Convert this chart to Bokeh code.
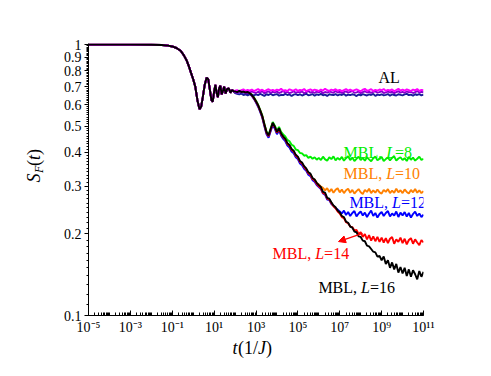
import math
from bokeh.plotting import figure
from bokeh.layouts import row, column
from bokeh.models import (Range1d, FixedTicker, CustomJSTickFormatter, Label, Arrow, NormalHead)
from bokeh.core.properties import value
from bokeh.embed import file_html
from bokeh.resources import INLINE

# ---------------- data (log10 of t, S_F values) ----------------
early_logt = [-5.0, -4.0, -3.0, -2.0, -1.5, -1.2, -1.0, -0.8, -0.6, -0.45, -0.3, -0.2, -0.1,
              0.0, 0.1, 0.2, 0.3, 0.38, 0.46, 0.55, 0.64, 0.72, 0.8, 0.87, 0.93, 1.0, 1.06,
              1.12, 1.18, 1.24, 1.3, 1.36, 1.42, 1.48, 1.55, 1.62, 1.7, 1.78, 1.86, 1.94]
early_s = [1.0, 1.0, 1.0, 0.9995, 0.997, 0.992, 0.985, 0.972, 0.95, 0.915, 0.87, 0.83, 0.785,
           0.745, 0.70, 0.625, 0.578, 0.59, 0.64, 0.71, 0.755, 0.745, 0.68, 0.625, 0.615, 0.67,
           0.71, 0.665, 0.64, 0.69, 0.705, 0.655, 0.675, 0.70, 0.66, 0.685, 0.69, 0.665, 0.68, 0.672]

tail_logt = [2.0, 2.1, 2.2, 2.3, 2.4, 2.5, 2.6, 2.7, 2.8, 2.9,
             3.0, 3.1, 3.2, 3.3, 3.4, 3.5, 3.6, 3.7, 3.8, 3.9,
             4.0, 4.1, 4.2, 4.3, 4.4, 4.5, 4.6, 4.7, 4.8, 4.9,
             5.0, 5.1, 5.2, 5.3, 5.4, 5.5, 5.6, 5.7, 5.8, 5.9,
             6.0, 6.1, 6.2, 6.3, 6.4, 6.5, 6.6, 6.7, 6.8, 6.9,
             7.0, 7.1, 7.2, 7.3, 7.4, 7.5, 7.6, 7.7, 7.8, 7.9,
             8.0, 8.1, 8.2, 8.3, 8.4, 8.5, 8.6, 8.7, 8.8, 8.9,
             9.0, 9.1, 9.2, 9.3, 9.4, 9.5, 9.6, 9.7, 9.8, 9.9,
             10.0, 10.1, 10.2, 10.3, 10.4, 10.5, 10.6, 10.7, 10.8, 10.9, 11.0]

al_magenta = [0.676, 0.680, 0.673, 0.679, 0.684, 0.675, 0.681, 0.677, 0.683, 0.674,
              0.680, 0.686, 0.676, 0.682, 0.673, 0.679, 0.685, 0.677, 0.681, 0.675,
              0.683, 0.678, 0.687, 0.676, 0.680, 0.674, 0.684, 0.679, 0.677, 0.685,
              0.675, 0.681, 0.678, 0.686, 0.673, 0.680, 0.684, 0.676, 0.682, 0.679,
              0.674, 0.683, 0.677, 0.688, 0.679, 0.675, 0.682, 0.678, 0.685, 0.676,
              0.681, 0.674, 0.680, 0.686, 0.677, 0.683, 0.675, 0.679, 0.684, 0.678,
              0.673, 0.682, 0.687, 0.676, 0.680, 0.685, 0.674, 0.681, 0.677, 0.683,
              0.679, 0.686, 0.675, 0.681, 0.678, 0.684, 0.673, 0.680, 0.687, 0.677,
              0.682, 0.676, 0.684, 0.679, 0.674, 0.683, 0.678, 0.686, 0.675, 0.681, 0.679]
al_purple = [0.668, 0.664, 0.671, 0.666, 0.673, 0.662, 0.669, 0.665, 0.672, 0.667,
             0.663, 0.670, 0.666, 0.674, 0.661, 0.668, 0.672, 0.664, 0.669, 0.666,
             0.671, 0.663, 0.668, 0.675, 0.665, 0.670, 0.662, 0.667, 0.673, 0.664,
             0.669, 0.666, 0.672, 0.661, 0.668, 0.674, 0.665, 0.670, 0.663, 0.671,
             0.667, 0.673, 0.662, 0.669, 0.665, 0.671, 0.668, 0.664, 0.674, 0.666,
             0.670, 0.663, 0.668, 0.672, 0.665, 0.669, 0.675, 0.664, 0.667, 0.671,
             0.662, 0.668, 0.673, 0.666, 0.670, 0.664, 0.669, 0.672, 0.665, 0.668,
             0.674, 0.663, 0.667, 0.671, 0.666, 0.670, 0.662, 0.668, 0.673, 0.665,
             0.669, 0.664, 0.672, 0.667, 0.670, 0.663, 0.668, 0.674, 0.666, 0.669, 0.667]
al_navy = [0.662, 0.658, 0.655, 0.659, 0.652, 0.656, 0.650, 0.657, 0.653, 0.649,
           0.655, 0.651, 0.658, 0.653, 0.647, 0.656, 0.652, 0.659, 0.650, 0.654,
           0.657, 0.648, 0.653, 0.651, 0.658, 0.652, 0.655, 0.646, 0.654, 0.657,
           0.651, 0.656, 0.649, 0.654, 0.659, 0.650, 0.653, 0.657, 0.648, 0.655,
           0.652, 0.658, 0.650, 0.654, 0.647, 0.656, 0.653, 0.651, 0.657, 0.649,
           0.655, 0.652, 0.658, 0.648, 0.654, 0.651, 0.656, 0.653, 0.646, 0.655,
           0.650, 0.657, 0.653, 0.649, 0.655, 0.652, 0.658, 0.647, 0.654, 0.651,
           0.656, 0.650, 0.653, 0.657, 0.648, 0.655, 0.652, 0.649, 0.656, 0.653,
           0.650, 0.655, 0.658, 0.651, 0.654, 0.648, 0.656, 0.652, 0.657, 0.650, 0.654]

mbl_L8 = [0.674, 0.670, 0.677, 0.671, 0.673, 0.668, 0.671, 0.664, 0.655, 0.640,
          0.621, 0.600, 0.575, 0.548, 0.511, 0.478, 0.465, 0.491, 0.518, 0.502,
          0.481, 0.497, 0.476, 0.466, 0.458, 0.445, 0.440, 0.427, 0.423, 0.410,
          0.408, 0.398, 0.397, 0.389, 0.391, 0.382, 0.386, 0.379, 0.384, 0.376,
          0.382, 0.375, 0.386, 0.377, 0.373, 0.384, 0.378, 0.387, 0.374, 0.382,
          0.376, 0.385, 0.373, 0.381, 0.387, 0.375, 0.383, 0.372, 0.379, 0.386,
          0.375, 0.382, 0.373, 0.384, 0.377, 0.371, 0.381, 0.386, 0.374, 0.380,
          0.385, 0.372, 0.378, 0.383, 0.374, 0.382, 0.387, 0.373, 0.380, 0.384,
          0.375, 0.381, 0.372, 0.385, 0.376, 0.383, 0.373, 0.379, 0.386, 0.375, 0.379]
mbl_L10 = [0.670, 0.666, 0.673, 0.667, 0.669, 0.664, 0.667, 0.660, 0.650, 0.634,
           0.614, 0.594, 0.568, 0.540, 0.503, 0.470, 0.456, 0.482, 0.509, 0.492,
           0.470, 0.486, 0.464, 0.452, 0.443, 0.427, 0.420, 0.406, 0.400, 0.387,
           0.380, 0.367, 0.362, 0.351, 0.346, 0.334, 0.331, 0.320, 0.318, 0.308,
           0.305, 0.299, 0.296, 0.290, 0.295, 0.286, 0.293, 0.284, 0.291, 0.295,
           0.285, 0.292, 0.283, 0.290, 0.294, 0.284, 0.291, 0.282, 0.288, 0.293,
           0.285, 0.281, 0.291, 0.286, 0.294, 0.283, 0.290, 0.284, 0.292, 0.285,
           0.282, 0.291, 0.286, 0.293, 0.283, 0.289, 0.284, 0.294, 0.285, 0.290,
           0.283, 0.292, 0.286, 0.282, 0.291, 0.285, 0.293, 0.284, 0.290, 0.283, 0.288]
mbl_L12 = [0.668, 0.663, 0.670, 0.664, 0.667, 0.661, 0.664, 0.657, 0.647, 0.631,
           0.611, 0.590, 0.565, 0.537, 0.500, 0.468, 0.453, 0.479, 0.506, 0.489,
           0.467, 0.483, 0.461, 0.449, 0.440, 0.424, 0.417, 0.403, 0.397, 0.384,
           0.378, 0.364, 0.359, 0.348, 0.342, 0.331, 0.327, 0.316, 0.312, 0.303,
           0.298, 0.293, 0.282, 0.279, 0.268, 0.267, 0.258, 0.254, 0.249, 0.246,
           0.242, 0.238, 0.244, 0.235, 0.241, 0.233, 0.239, 0.243, 0.232, 0.238,
           0.242, 0.234, 0.240, 0.231, 0.238, 0.244, 0.233, 0.239, 0.230, 0.237,
           0.241, 0.233, 0.239, 0.243, 0.232, 0.238, 0.234, 0.242, 0.231, 0.240,
           0.234, 0.241, 0.232, 0.239, 0.230, 0.237, 0.242, 0.233, 0.238, 0.231, 0.236]
mbl_L14 = [0.671, 0.667, 0.674, 0.668, 0.670, 0.665, 0.668, 0.661, 0.651, 0.635,
           0.616, 0.596, 0.570, 0.543, 0.506, 0.474, 0.459, 0.485, 0.512, 0.495,
           0.473, 0.489, 0.467, 0.455, 0.446, 0.430, 0.423, 0.409, 0.403, 0.389,
           0.383, 0.369, 0.364, 0.353, 0.346, 0.335, 0.331, 0.319, 0.315, 0.306,
           0.300, 0.295, 0.283, 0.281, 0.270, 0.268, 0.260, 0.253, 0.249, 0.242,
           0.238, 0.231, 0.229, 0.221, 0.219, 0.213, 0.212, 0.206, 0.207, 0.200,
           0.203, 0.195, 0.200, 0.191, 0.198, 0.189, 0.196, 0.188, 0.195, 0.187,
           0.194, 0.186, 0.193, 0.185, 0.192, 0.195, 0.184, 0.191, 0.187, 0.194,
           0.185, 0.192, 0.183, 0.190, 0.193, 0.184, 0.191, 0.186, 0.182, 0.190, 0.186]
mbl_L16 = [0.672, 0.668, 0.675, 0.669, 0.671, 0.666, 0.669, 0.662, 0.652, 0.637,
           0.618, 0.598, 0.572, 0.545, 0.508, 0.476, 0.462, 0.488, 0.515, 0.498,
           0.476, 0.492, 0.470, 0.458, 0.449, 0.433, 0.426, 0.412, 0.406, 0.392,
           0.386, 0.372, 0.367, 0.356, 0.349, 0.338, 0.334, 0.322, 0.318, 0.309,
           0.303, 0.298, 0.286, 0.284, 0.272, 0.270, 0.262, 0.255, 0.251, 0.244,
           0.240, 0.233, 0.231, 0.222, 0.220, 0.213, 0.211, 0.204, 0.203, 0.196,
           0.195, 0.189, 0.188, 0.181, 0.180, 0.176, 0.172, 0.171, 0.165, 0.166,
           0.160, 0.165, 0.155, 0.160, 0.150, 0.157, 0.148, 0.155, 0.144, 0.151,
           0.143, 0.150, 0.140, 0.148, 0.139, 0.147, 0.142, 0.136, 0.146, 0.139, 0.145]

# drawing order and colours
series_values = [mbl_L8, mbl_L10, mbl_L12, mbl_L14, al_navy, al_purple, al_magenta, mbl_L16]
series_colors = ["#00ee00", "#ff8000", "#0000ff", "#ff0000",
                 "#1a1a9a", "#8a00d0", "#ff00ff", "#000000"]

# curve labels: anchor (log10 t, S), pieces (text, italic), colour
label_logt = [8.85, 7.18, 7.18, 7.46, 3.79, 5.98]
label_s = [0.7555, 0.3995, 0.334, 0.261, 0.169, 0.127]
label_parts = [[("AL", False)],
               [("MBL, ", False), ("L", True), ("=8", False)],
               [("MBL, ", False), ("L", True), ("=10", False)],
               [("MBL, ", False), ("L", True), ("=12", False)],
               [("MBL, ", False), ("L", True), ("=14", False)],
               [("MBL, ", False), ("L", True), ("=16", False)]]
label_colors = ["#000000", "#00ee00", "#ff8000", "#0000ff", "#ff0000", "#000000"]

# arrow (log10 t, S): from -> to
arrow_from = (8.09, 0.201)
arrow_to = (6.94, 0.1875)

x_major = [-5, -3, -1, 1, 3, 5, 7, 9, 11]
y_major = [0.1, 0.2, 0.3, 0.4, 0.5, 0.6, 0.7, 0.8, 0.9, 1.0]

# axis title pieces: (text, italic, font px, x, y) in the small title panels' own pixels
xtitle_parts = [("t", True, 18, 232, 21), ("(1/", False, 18, 237.5, 21),
                ("J", True, 18, 257.5, 21), (")", False, 18, 265.5, 21)]
ytitle_parts = [("S", True, 18, 33, 133), ("F", True, 12, 38, 142.5),
                ("(", False, 18, 33, 149.5), ("t", True, 18, 33, 155.5), (")", False, 18, 33, 160.5)]

FONT = "Liberation Serif"

# ---------------- main figure ----------------
p = figure(width=435, height=338, x_axis_type="log", y_axis_type="log",
           x_range=Range1d(1e-5, 1e11), y_range=Range1d(0.1, 1.01),
           output_backend="svg", toolbar_location=None,
           min_border_left=40, min_border_right=60, min_border_top=43, min_border_bottom=23)
p.outline_line_color = None
p.xgrid.visible = False
p.ygrid.visible = False

for vals, col in zip(series_values, series_colors):
    lt = early_logt + tail_logt
    ss = early_s + vals
    p.line([10 ** v for v in lt], ss, line_color=col, line_width=1.9)

minor_x = [m * 10.0 ** k for k in range(-5, 11) for m in range(1, 10)] + [1e11]
p.xaxis.ticker = FixedTicker(ticks=[10.0 ** k for k in x_major], minor_ticks=minor_x)
p.xaxis.formatter = CustomJSTickFormatter(code="""
const e = Math.round(Math.log10(tick));
const sup = {'-':'\u207b','0':'\u2070','1':'\u00b9','2':'\u00b2','3':'\u00b3','4':'\u2074',
             '5':'\u2075','6':'\u2076','7':'\u2077','8':'\u2078','9':'\u2079'};
return '10' + String(e).split('').map(c => sup[c]).join('');
""")
minor_y = [round(0.01 * i, 2) for i in range(10, 101)]
p.yaxis.ticker = FixedTicker(ticks=y_major, minor_ticks=minor_y)
p.yaxis.formatter = CustomJSTickFormatter(code="""
return (Math.abs(tick - 1) < 1e-9) ? '1' : tick.toFixed(1);
""")

for ax in (p.xaxis[0], p.yaxis[0]):
    ax.axis_line_color = "black"
    ax.axis_line_width = 1
    ax.major_tick_line_color = "black"
    ax.minor_tick_line_color = "black"
    ax.major_label_text_font = FONT
    ax.major_label_text_font_size = "14px"
    ax.major_label_text_color = "black"

p.xaxis.major_tick_in = 5
p.xaxis.major_tick_out = 0
p.xaxis.minor_tick_in = 3
p.xaxis.minor_tick_out = 0
p.xaxis.major_label_standoff = 4
p.yaxis.major_tick_in = 0
p.yaxis.major_tick_out = 4
p.yaxis.minor_tick_in = 0
p.yaxis.minor_tick_out = 2
p.yaxis.major_label_standoff = 3

W = {"M": 0.889, "B": 0.667, "L": 0.611, ",": 0.25, " ": 0.25, "=": 0.564, "A": 0.722}
WI = {"L": 0.556}
def width_em(txt, italic):
    tot = 0.0
    for c in txt:
        if c.isdigit():
            tot += 0.5
        else:
            tot += (WI if italic else W).get(c, W.get(c, 0.5))
    return tot

size = 16
for lx, ly, parts, col in zip(label_logt, label_s, label_parts, label_colors):
    off = 0.0
    for txt, it in parts:
        p.text(x=[10 ** lx], y=[ly], text=[txt], x_offset=off,
               text_font=value(FONT), text_font_size="16px",
               text_font_style="italic" if it else "normal",
               text_color=col, text_baseline="middle", text_align="left")
        off += width_em(txt, it) * size

p.add_layout(Arrow(end=NormalHead(size=7, fill_color="red", line_color="red", line_width=1),
                   x_start=10 ** arrow_from[0], y_start=arrow_from[1],
                   x_end=10 ** arrow_to[0], y_end=arrow_to[1],
                   line_color="red", line_width=1.2))

# ---------------- title panels (mixed italic text) ----------------
def blank_fig(w, h):
    f = figure(width=w, height=h, output_backend="svg", toolbar_location=None,
               x_axis_location=None, y_axis_location=None,
               min_border=0, min_border_left=0, min_border_right=0,
               min_border_top=0, min_border_bottom=0)
    f.outline_line_color = None
    f.xgrid.visible = False
    f.ygrid.visible = False
    return f

fy = blank_fig(48, 338)
for txt, it, fs, px, py in ytitle_parts:
    fy.add_layout(Label(x=px, y=py, x_units="screen", y_units="screen", text=txt,
                        angle=math.pi / 2, text_font=FONT, text_font_size=f"{fs}px",
                        text_font_style="italic" if it else "normal",
                        text_baseline="middle", text_align="left", text_color="black"))

fx = blank_fig(483, 30)
for txt, it, fs, px, py in xtitle_parts:
    fx.add_layout(Label(x=px, y=py, x_units="screen", y_units="screen", text=txt,
                        text_font=FONT, text_font_size=f"{fs}px",
                        text_font_style="italic" if it else "normal",
                        text_baseline="alphabetic", text_align="left", text_color="black"))

layout = column(row(fy, p, spacing=0), fx, spacing=0)
open("out.html", "w").write(file_html(layout, INLINE))
